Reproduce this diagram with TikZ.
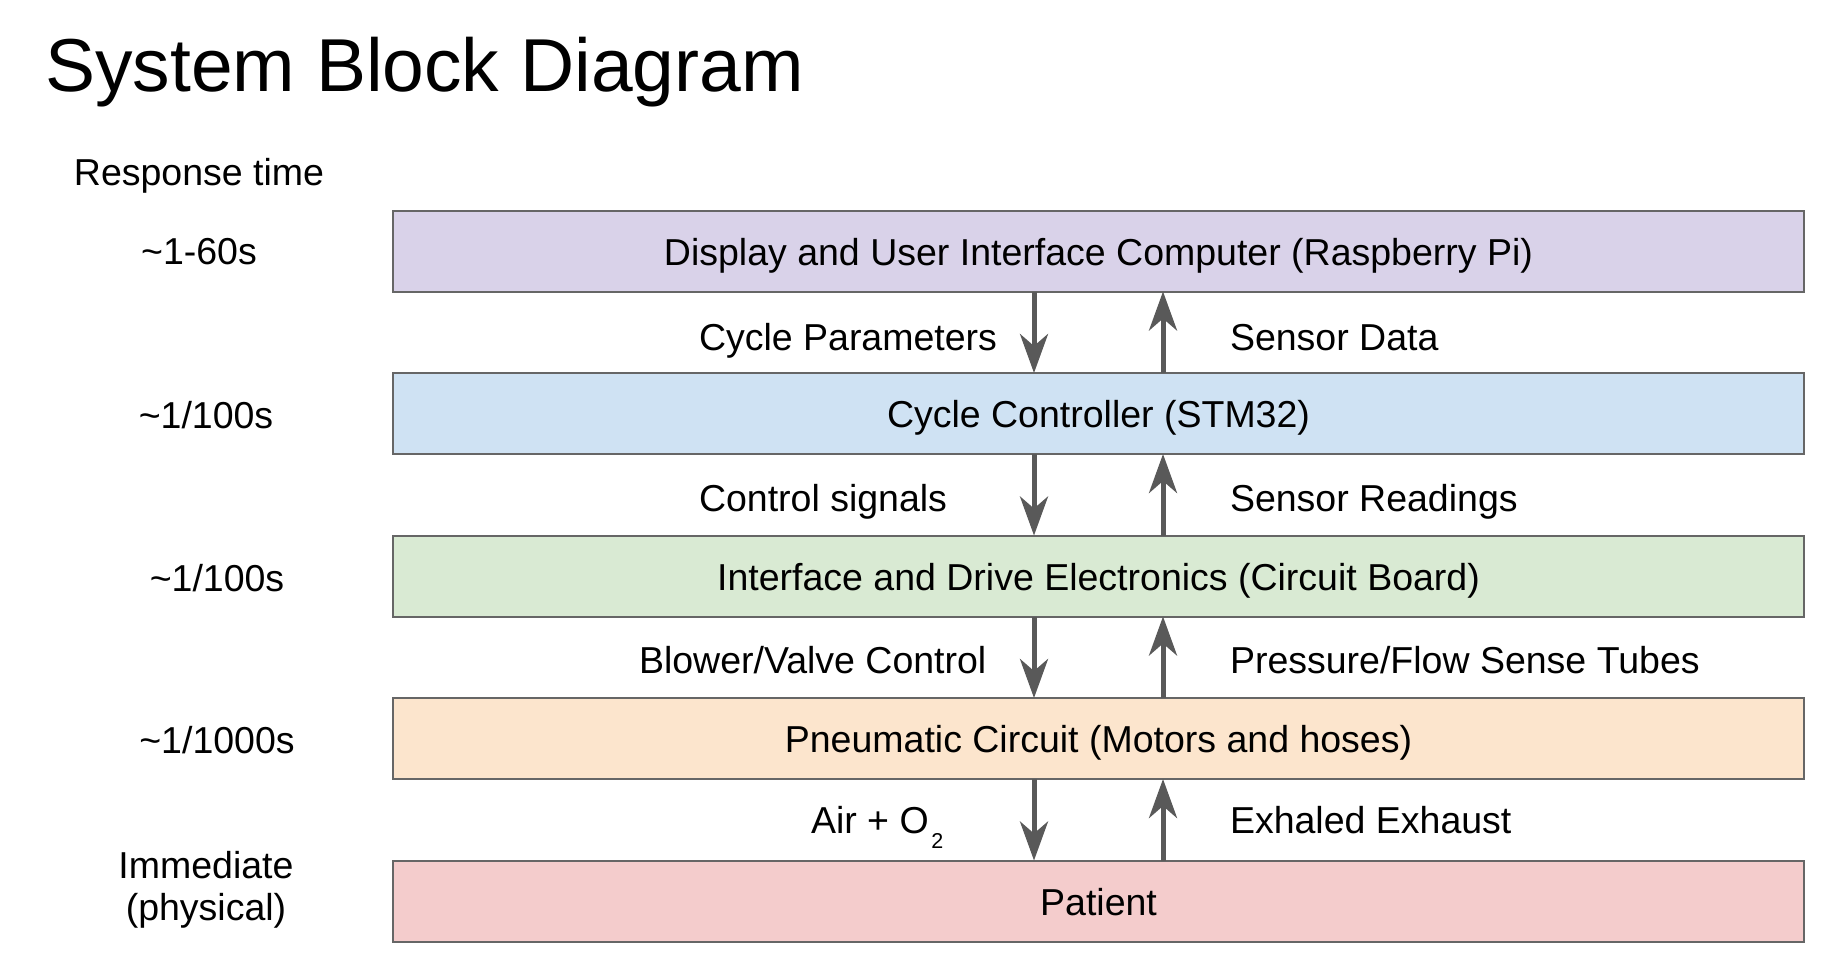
\documentclass[tikz,border=0pt]{standalone}
\usepackage{fontspec}
\setmainfont{Liberation Sans}
\usetikzlibrary{arrows.meta}
\definecolor{cpurple}{HTML}{D9D2E9}
\definecolor{cblue}{HTML}{CFE2F3}
\definecolor{cgreen}{HTML}{D9EAD3}
\definecolor{corange}{HTML}{FCE5CD}
\definecolor{cred}{HTML}{F4CCCC}
\definecolor{cborder}{HTML}{666666}
\definecolor{carrow}{HTML}{595959}
\begin{document}
\begin{tikzpicture}[x=1pt,y=-1pt,
  block/.style={draw=cborder, line width=2pt, minimum width=1411pt, minimum height=81pt,
    inner sep=0pt, outer sep=0pt, text height=28pt, text depth=0pt,
    font=\fontsize{37.5}{45}\selectfont, text=black},
  txt/.style={inner sep=0pt, outer sep=0pt, font=\fontsize{37.5}{45}\selectfont, anchor=base, text=black},
  lbl/.style={txt, anchor=base west},
  flow/.style={draw=carrow, line width=5pt, -{Stealth[length=39pt,width=28pt,inset=12pt]}}
]
\useasboundingbox (0,0) rectangle (1827,967);

% title
\node[inner sep=0pt, anchor=base west, font=\fontsize{75}{90}\selectfont] (title) at (45,91) {System Block Diagram};

% blocks
\node[block, fill=cpurple] (b1) at (1098.5,251) {Display and User Interface Computer (Raspberry Pi)};
\node[block, fill=cblue]   (b2) at (1098.5,413.5) {Cycle Controller (STM32)};
\node[block, fill=cgreen]  (b3) at (1098.5,576) {Interface and Drive Electronics (Circuit Board)};
\node[block, fill=corange] (b4) at (1098.5,738.5) {Pneumatic Circuit (Motors and hoses)};
\node[block, fill=cred]    (b5) at (1098.5,901) {Patient};

% response time column
\node[txt] (rt) at (199,185) {Response time};
\node[txt] (r1) at (199,264) {\textasciitilde 1-60s};
\node[txt] (r2) at (206,428) {\textasciitilde 1/100s};
\node[txt] (r3) at (217,591) {\textasciitilde 1/100s};
\node[txt] (r4) at (217,753) {\textasciitilde 1/1000s};
\node[txt] (r5a) at (206,878) {Immediate};
\node[txt] (r5b) at (206,920) {(physical)};

% arrow x positions
\coordinate (xd) at (1034,0);
\coordinate (xu) at (1163,0);

\draw[flow] (b1.south -| xd) -- (b2.north -| xd);
\draw[flow] (b2.north -| xu) -- (b1.south -| xu);
\draw[flow] (b2.south -| xd) -- (b3.north -| xd);
\draw[flow] (b3.north -| xu) -- (b2.south -| xu);
\draw[flow] (b3.south -| xd) -- (b4.north -| xd);
\draw[flow] (b4.north -| xu) -- (b3.south -| xu);
\draw[flow] (b4.south -| xd) -- (b5.north -| xd);
\draw[flow] (b5.north -| xu) -- (b4.south -| xu);

% edge labels
\node[lbl] (l1) at (699,350) {Cycle Parameters};
\node[lbl] (l2) at (699,511) {Control signals};
\node[lbl] (l3) at (639,673) {Blower/Valve Control};
\node[lbl] (l4) at (811,833) {Air + O\kern2.5pt\raisebox{-15pt}{\fontsize{21.5}{23}\selectfont 2}};
\node[lbl] (m1) at (1230,350) {Sensor Data};
\node[lbl] (m2) at (1230,511) {Sensor Readings};
\node[lbl] (m3) at (1230,673) {Pressure/Flow Sense Tubes};
\node[lbl] (m4) at (1230,833) {Exhaled Exhaust};
\end{tikzpicture}
\end{document}
